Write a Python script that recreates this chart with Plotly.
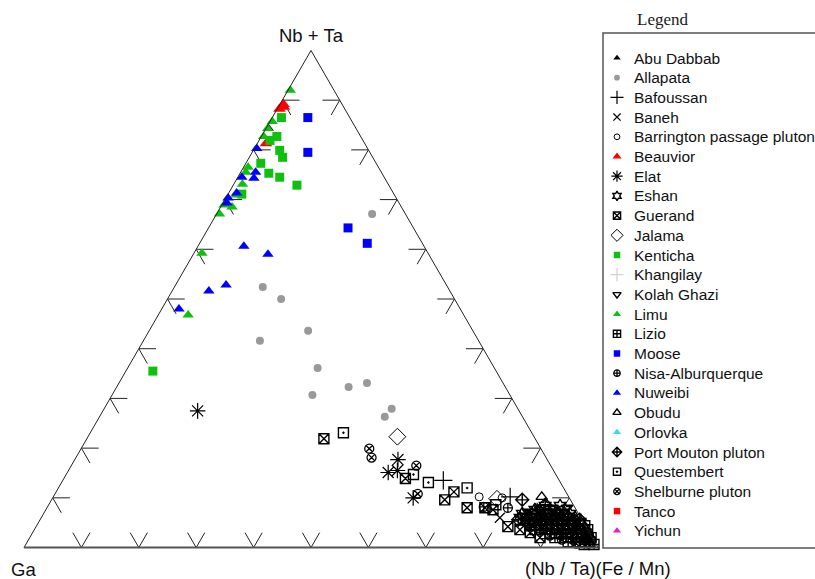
import plotly.graph_objects as go

# ---------------- data (fractions; a = Nb+Ta, c = (Nb/Ta)(Fe/Mn), Ga = 1-a-c) ----------------
names = ["Abu Dabbab", "Allapata", "Bafoussan", "Baneh", "Barrington passage pluton",
         "Beauvior", "Elat", "Eshan", "Guerand", "Jalama", "Kenticha", "Khangilay",
         "Kolah Ghazi", "Limu", "Lizio", "Moose", "Nisa-Alburquerque", "Nuweibi",
         "Obudu", "Orlovka", "Port Mouton pluton", "Questembert", "Shelburne pluton",
         "Tanco", "Yichun"]

abu_dabbab_a = [0.843]
abu_dabbab_c = [0.005]
allapata_a = [0.671, 0.524, 0.500, 0.436, 0.416, 0.361, 0.307, 0.323, 0.331, 0.279, 0.263]
allapata_c = [0.271, 0.154, 0.198, 0.277, 0.203, 0.331, 0.349, 0.404, 0.432, 0.501, 0.497]
bafoussan_a = [0.135, 0.102, 0.072]
bafoussan_c = [0.663, 0.796, 0.858]
baneh_a = [0.060, 0.072]
baneh_c = [0.799, 0.889]
barrington_a = [0.102, 0.100, 0.056, 0.046]
barrington_c = [0.742, 0.783, 0.845, 0.890]
beauvior_a = [0.892, 0.882, 0.886, 0.813]
beauvior_c = [0.006, 0.004, 0.010, 0.015]
elat_a = [0.275, 0.177, 0.151, 0.155, 0.100]
elat_c = [0.165, 0.563, 0.559, 0.573, 0.628]
eshan_a = [0.084, 0.084, 0.076, 0.076, 0.076, 0.068, 0.068, 0.068, 0.068, 0.068,
           0.060, 0.060, 0.060, 0.060, 0.060, 0.060, 0.052, 0.052, 0.052, 0.052, 0.052, 0.052]
eshan_c = [0.866, 0.892, 0.852, 0.878, 0.904, 0.834, 0.851, 0.874, 0.896, 0.917,
           0.834, 0.851, 0.869, 0.890, 0.909, 0.930, 0.847, 0.864, 0.883, 0.903, 0.922, 0.943]
guerand_a = [0.219, 0.139, 0.096, 0.112, 0.080, 0.080, 0.076, 0.042, 0.036, 0.030, 0.020]
guerand_c = [0.413, 0.595, 0.685, 0.693, 0.732, 0.763, 0.779, 0.822, 0.846, 0.867, 0.889]
jalama_a = [0.223, 0.098, 0.060]
jalama_c = [0.539, 0.775, 0.890]
kenticha_a = [0.865, 0.827, 0.819, 0.799, 0.785, 0.773, 0.753, 0.745, 0.729, 0.711, 0.355]
kenticha_c = [0.016, 0.027, 0.019, 0.046, 0.058, 0.026, 0.050, 0.073, 0.111, 0.024, 0.047]
khangilay_a = [0.056]
khangilay_c = [0.915]
kolah_a = [0.076, 0.080, 0.080, 0.080, 0.072, 0.072, 0.072, 0.072,
           0.064, 0.064, 0.064, 0.064, 0.064, 0.064]
kolah_c = [0.861, 0.859, 0.881, 0.906, 0.842, 0.863, 0.884, 0.905,
           0.841, 0.858, 0.877, 0.897, 0.917, 0.937]
limu_a = [0.920, 0.857, 0.843, 0.827, 0.765, 0.755, 0.731, 0.709, 0.689, 0.685, 0.671, 0.592, 0.468]
limu_c = [0.004, 0.004, 0.003, 0.004, 0.008, 0.009, 0.015, 0.015, 0.004, 0.020, 0.005, 0.014, 0.052]
lizio_a = [0.044, 0.044, 0.044, 0.044, 0.044, 0.044, 0.036, 0.036, 0.036, 0.036, 0.036, 0.036,
           0.028, 0.028, 0.028, 0.028, 0.028, 0.020, 0.020, 0.020, 0.020, 0.020, 0.012, 0.012, 0.012,
           0.006, 0.006]
lizio_c = [0.859, 0.879, 0.898, 0.917, 0.936, 0.955, 0.872, 0.893, 0.912, 0.931, 0.951, 0.964,
           0.894, 0.913, 0.932, 0.951, 0.965, 0.915, 0.934, 0.953, 0.971, 0.978, 0.942, 0.963, 0.980,
           0.973, 0.990]
moose_a = [0.865, 0.795, 0.643, 0.612]
moose_c = [0.062, 0.097, 0.243, 0.292]
nisa_a = [0.082, 0.080]
nisa_c = [0.760, 0.803]
nuweibi_a = [0.803, 0.755, 0.743, 0.745, 0.713, 0.703, 0.693, 0.606, 0.590, 0.516, 0.528, 0.480]
nuweibi_c = [0.004, 0.026, 0.029, 0.007, 0.014, 0.004, 0.007, 0.080, 0.130, 0.064, 0.088, 0.030]
obudu_a = [0.066, 0.102, 0.040, 0.040, 0.040, 0.040, 0.040, 0.040,
           0.032, 0.032, 0.032, 0.032, 0.032, 0.032]
obudu_c = [0.843, 0.851, 0.872, 0.891, 0.910, 0.929, 0.949, 0.966,
           0.883, 0.902, 0.921, 0.940, 0.960, 0.966]
orlovka_a = []
orlovka_c = []
port_mouton_a = [0.096, 0.086, 0.056, 0.056, 0.056, 0.056, 0.056, 0.056, 0.056,
                 0.048, 0.048, 0.048, 0.048, 0.048, 0.048]
port_mouton_c = [0.820, 0.865, 0.833, 0.853, 0.873, 0.892, 0.911, 0.930, 0.940,
                 0.854, 0.875, 0.894, 0.913, 0.932, 0.945]
questembert_a = [0.231, 0.147, 0.131, 0.120, 0.086, 0.056]
questembert_c = [0.441, 0.605, 0.639, 0.712, 0.779, 0.906]
shelburne_a = [0.199, 0.181, 0.165, 0.108, 0.056, 0.066, 0.024, 0.024, 0.024, 0.024, 0.024,
               0.016, 0.016, 0.016, 0.016, 0.008, 0.008]
shelburne_c = [0.502, 0.515, 0.601, 0.632, 0.880, 0.901, 0.904, 0.924, 0.943, 0.962, 0.972,
               0.929, 0.948, 0.968, 0.980, 0.958, 0.979]
tanco_a = []
tanco_c = []
yichun_a = []
yichun_c = []

series_a = [abu_dabbab_a, allapata_a, bafoussan_a, baneh_a, barrington_a, beauvior_a, elat_a,
            eshan_a, guerand_a, jalama_a, kenticha_a, khangilay_a, kolah_a, limu_a, lizio_a,
            moose_a, nisa_a, nuweibi_a, obudu_a, orlovka_a, port_mouton_a, questembert_a,
            shelburne_a, tanco_a, yichun_a]
series_c = [abu_dabbab_c, allapata_c, bafoussan_c, baneh_c, barrington_c, beauvior_c, elat_c,
            eshan_c, guerand_c, jalama_c, kenticha_c, khangilay_c, kolah_c, limu_c, lizio_c,
            moose_c, nisa_c, nuweibi_c, obudu_c, orlovka_c, port_mouton_c, questembert_c,
            shelburne_c, tanco_c, yichun_c]

# ---------------- styles ----------------
GREEN, BLUE, RED, GRAY = "#10c010", "#0000ff", "#ff0000", "#999999"
styles = [
    dict(symbol="triangle-up", color="black", size=9),
    dict(symbol="circle", color=GRAY, size=8),
    dict(symbol="cross-thin", color="black", size=13, lw=1.2),
    dict(symbol="x-thin", color="black", size=10, lw=1.2),
    dict(symbol="circle-open", color="black", size=8, lw=1),
    dict(symbol="triangle-up", color=RED, size=11),
    dict(symbol="asterisk", color="black", size=13, lw=1.2),
    dict(symbol="hexagram-open", color="black", size=10, lw=1.4),
    dict(symbol="square-x-open", color="black", size=10, lw=1.4),
    dict(symbol="diamond-open", color="black", size=13, lw=1),
    dict(symbol="square", color=GREEN, size=9),
    dict(symbol="cross-thin", color="#c8c8c8", size=13, lw=1),
    dict(symbol="triangle-down-open", color="black", size=10, lw=1.4),
    dict(symbol="triangle-up", color=GREEN, size=10),
    dict(symbol="square-cross-open", color="black", size=10, lw=1.4),
    dict(symbol="square", color=BLUE, size=9),
    dict(symbol="circle-cross-open", color="black", size=9, lw=1.3),
    dict(symbol="triangle-up", color=BLUE, size=10),
    dict(symbol="triangle-up-open", color="black", size=10, lw=1.4),
    dict(symbol="triangle-up", color="#33e0e0", size=10),
    dict(symbol="diamond-cross-open", color="black", size=10, lw=1.4),
    dict(symbol="square-open-dot", color="black", size=10, lw=1.4),
    dict(symbol="circle-x-open", color="black", size=9, lw=1.3),
    dict(symbol="square", color=RED, size=9),
    dict(symbol="triangle-up", color="#e020d0", size=10),
]

fig = go.Figure()

def mk(st, scale=1.0):
    m = dict(symbol=st["symbol"], color=st["color"], size=st["size"] * scale)
    m["line"] = dict(color=st["color"], width=st.get("lw", 0))
    return m

# ---------------- arrow-like ticks on the three edges ----------------
d = 0.03
ta, tb, tc = [], [], []
for k in range(1, 10):
    v = k / 10
    segs = [
        ((v, 1 - v, 0), (v, 1 - v - d, d)), ((v, 1 - v, 0), (v - d, 1 - v, d)),        # left edge
        ((0, v, 1 - v), (d, v - d, 1 - v)), ((0, v, 1 - v), (d, v, 1 - v - d)),        # bottom edge
        ((v, 0, 1 - v), (v, d, 1 - v - d)), ((v, 0, 1 - v), (v - d, d, 1 - v)),        # right edge
    ]
    for seg in segs:
        for p in seg:
            ta.append(p[0]); tb.append(p[1]); tc.append(p[2])
        ta.append(None); tb.append(None); tc.append(None)
fig.add_trace(go.Scatterternary(a=ta, b=tb, c=tc, mode="lines", showlegend=False,
                                line=dict(color="#222222", width=1), hoverinfo="skip"))

for nm, a, c, st in zip(names, series_a, series_c, styles):
    fig.add_trace(go.Scatterternary(a=a, c=c, mode="markers", name=nm, showlegend=False,
                                    marker=mk(st), cliponaxis=False))

# ---------------- manual legend (pixel-coordinate overlay axes) ----------------
leg_y = [58 + 19.7 * i for i in range(len(names))]
for nm, y, st in zip(names, leg_y, styles):
    fig.add_trace(go.Scatter(x=[617], y=[y], mode="markers", showlegend=False,
                             marker=mk(st, 0.72), xaxis="x", yaxis="y", cliponaxis=False,
                             hoverinfo="skip"))

annotations = []
for nm, y in zip(names, leg_y):
    annotations.append(dict(x=632, y=y, xref="x", yref="y", text=nm, showarrow=False,
                            xanchor="left", yanchor="middle",
                            font=dict(family="Liberation Sans, Arial", size=15.5, color="#111")))
annotations.append(dict(x=662, y=19, xref="x", yref="y", text="Legend", showarrow=False,
                        xanchor="center", yanchor="middle",
                        font=dict(family="Liberation Serif, Times New Roman", size=17, color="#1a1a1a")))
title_font = dict(family="Liberation Sans, Arial", size=18.5, color="#111")
annotations.append(dict(x=311, y=35, xref="x", yref="y", text="Nb + Ta", showarrow=False,
                        xanchor="center", yanchor="middle", font=title_font))
annotations.append(dict(x=23, y=569, xref="x", yref="y", text="Ga", showarrow=False,
                        xanchor="center", yanchor="middle", font=title_font))
annotations.append(dict(x=598, y=568, xref="x", yref="y", text="(Nb / Ta)(Fe / Mn)", showarrow=False,
                        xanchor="center", yanchor="middle", font=title_font))

axis_common = dict(showgrid=False, ticks="", showticklabels=False, title=dict(text=""))
fig.update_layout(
    template="none",
    width=815, height=579,
    margin=dict(l=0, r=0, t=0, b=0),
    paper_bgcolor="white",
    plot_bgcolor="rgba(0,0,0,0)",
    showlegend=False,
    ternary=dict(
        sum=1,
        bgcolor="white",
        domain=dict(x=[24 / 815, 598 / 815], y=[31 / 579, 529 / 579]),
        aaxis=dict(showline=True, linecolor="#222", linewidth=1, **axis_common),
        baxis=dict(showline=True, linecolor="#555", linewidth=2, **axis_common),
        caxis=dict(showline=True, linecolor="#222", linewidth=1, **axis_common),
    ),
    xaxis=dict(range=[0, 815], domain=[0, 1], visible=False, fixedrange=True),
    yaxis=dict(range=[579, 0], domain=[0, 1], visible=False, fixedrange=True),
    shapes=[dict(type="rect", xref="x", yref="y", x0=603, y0=33, x1=830, y1=548,
                 line=dict(color="#555", width=1.5), fillcolor="rgba(0,0,0,0)")],
    annotations=annotations,
)

fig.write_html("out.html")
